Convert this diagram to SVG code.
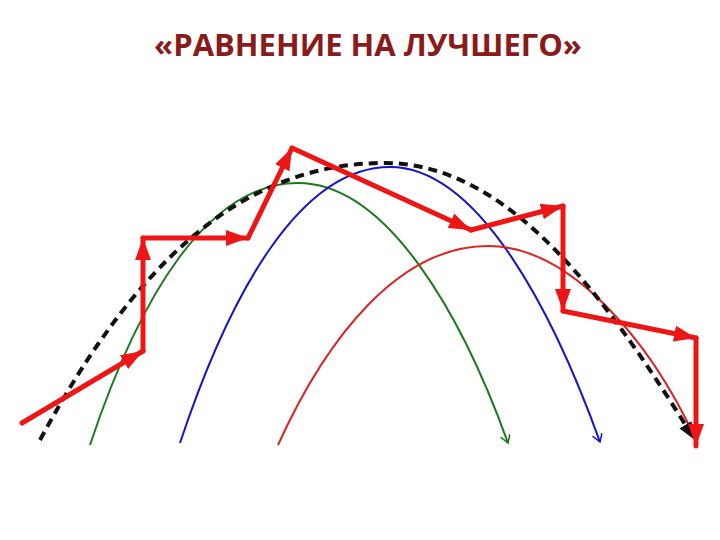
<svg xmlns="http://www.w3.org/2000/svg" width="720" height="540" viewBox="0 0 720 540">
<defs>
<style>
.title{font-family:"Open Sans","Liberation Sans",sans-serif;font-weight:bold;font-size:31px;fill:#8b1a1a}
.thin{fill:none;stroke-width:2}
.red{fill:none;stroke:#ee1515;stroke-width:5;stroke-linecap:round}
</style>
<marker id="ar" markerUnits="userSpaceOnUse" markerWidth="24" markerHeight="18" refX="22" refY="8" orient="auto"><path d="M0,0 L22,8 L0,16 z" fill="#ee1515"/></marker>
<marker id="ak" markerUnits="userSpaceOnUse" markerWidth="22" markerHeight="16" refX="18" refY="7" orient="auto"><path d="M0,0 L18,7 L0,14 z" fill="#111"/></marker>
<marker id="ag" markerUnits="userSpaceOnUse" markerWidth="12" markerHeight="12" refX="8" refY="5" orient="auto"><path d="M0,0 L8,5 L0,10" fill="none" stroke="#1a7a1a" stroke-width="1.5"/></marker>
<marker id="ab" markerUnits="userSpaceOnUse" markerWidth="12" markerHeight="12" refX="8" refY="5" orient="auto"><path d="M0,0 L8,5 L0,10" fill="none" stroke="#1414c8" stroke-width="1.5"/></marker>
</defs>
<rect width="720" height="540" fill="#fff"/>
<text class="title" x="368" y="56" text-anchor="middle">«РАВНЕНИЕ НА ЛУЧШЕГО»</text>
<g id="connectors">
<path id="green" class="thin" stroke="#1a7a1a" d="M90,445 C140,295 208,183 298,183 C388,183 463,318 508,443" marker-end="url(#ag)"/>
<path id="blue" class="thin" stroke="#1414c8" d="M180,443 C230,293 300,167 390,167 C480,167 555,317 600,442" marker-end="url(#ab)"/>
<path id="crimson" class="thin" stroke="#dd2222" d="M278,445 C328,335 400,246 488,246 C570,246 650,340 696,440"/>
<path id="dashed" fill="none" stroke="#111" stroke-width="4" stroke-dasharray="9,6" d="M40,440 C130,273 235,163 385,163 C515,163 615,312 695,440" marker-end="url(#ak)"/>
<g id="red-path">
<line class="red" x1="22" y1="423" x2="143" y2="351" marker-end="url(#ar)"/>
<line class="red" x1="143" y1="351" x2="143" y2="238" marker-end="url(#ar)"/>
<line class="red" x1="143" y1="238" x2="248" y2="238" marker-end="url(#ar)"/>
<line class="red" x1="248" y1="238" x2="292" y2="148" marker-end="url(#ar)"/>
<line class="red" x1="292" y1="148" x2="471" y2="230" marker-end="url(#ar)"/>
<line class="red" x1="471" y1="230" x2="563" y2="206" marker-end="url(#ar)"/>
<line class="red" x1="563" y1="206" x2="563" y2="311" marker-end="url(#ar)"/>
<line class="red" x1="563" y1="311" x2="696" y2="338" marker-end="url(#ar)"/>
<line class="red" x1="696" y1="338" x2="696" y2="446" marker-end="url(#ar)"/>
</g>
</g>
</svg>
